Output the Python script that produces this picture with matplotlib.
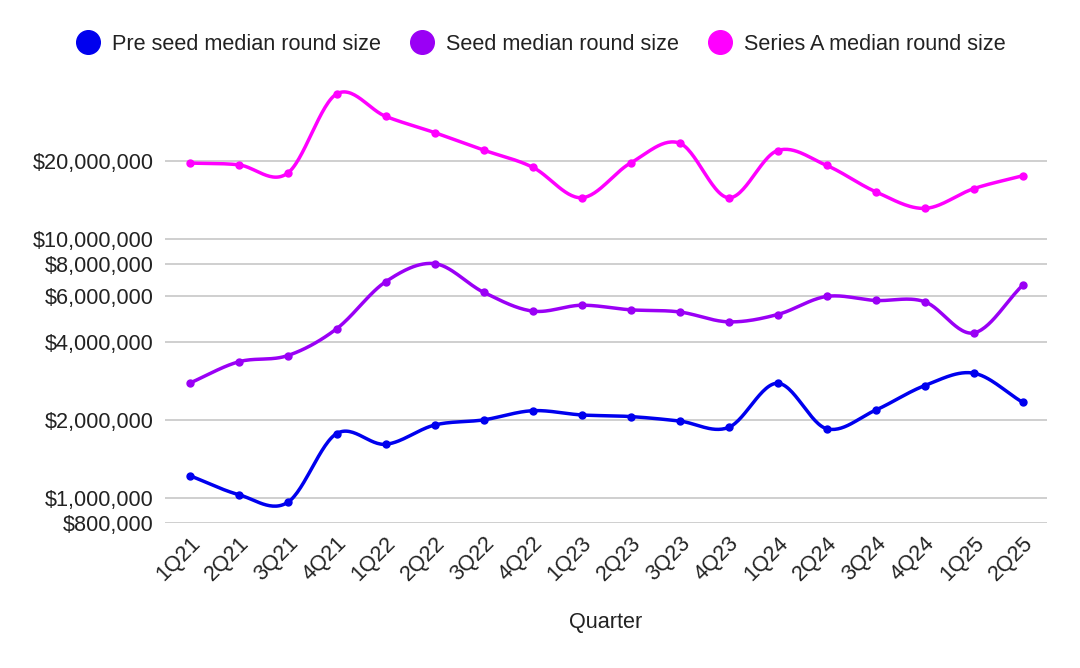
import numpy as np
import matplotlib
matplotlib.use("Agg")
import matplotlib.pyplot as plt
from matplotlib.ticker import FixedLocator, FuncFormatter, NullLocator

quarters = ["1Q21", "2Q21", "3Q21", "4Q21", "1Q22", "2Q22", "3Q22", "4Q22", "1Q23",
            "2Q23", "3Q23", "4Q23", "1Q24", "2Q24", "3Q24", "4Q24", "1Q25", "2Q25"]
pre_seed = [1.22e6, 1.03e6, 0.96e6, 1.77e6, 1.61e6, 1.91e6, 2.00e6, 2.17e6, 2.09e6,
            2.06e6, 1.98e6, 1.87e6, 2.77e6, 1.85e6, 2.18e6, 2.71e6, 3.03e6, 2.34e6]
seed = [2.77e6, 3.35e6, 3.54e6, 4.49e6, 6.82e6, 8.02e6, 6.22e6, 5.26e6, 5.54e6,
        5.32e6, 5.22e6, 4.78e6, 5.10e6, 5.99e6, 5.78e6, 5.72e6, 4.33e6, 6.61e6]
series_a = [19.6e6, 19.3e6, 17.9e6, 36.2e6, 29.7e6, 25.7e6, 22.0e6, 18.9e6, 14.4e6,
            19.6e6, 23.4e6, 14.4e6, 21.9e6, 19.2e6, 15.2e6, 13.1e6, 15.6e6, 17.5e6]
names = ["Pre seed median round size", "Seed median round size", "Series A median round size"]
colors = ["#0000ee", "#9a00f5", "#ff00ff"]
yticks = [8e5, 1e6, 2e6, 4e6, 6e6, 8e6, 1e7, 2e7]

plt.rcParams['font.family'] = ['Liberation Sans', 'DejaVu Sans']

def smooth(xs, ys, n=30):
    # Catmull-Rom spline through points in (x, log y) space
    x = np.asarray(xs, float)
    y = np.log(np.asarray(ys, float))
    px = np.concatenate([[2 * x[0] - x[1]], x, [2 * x[-1] - x[-2]]])
    py = np.concatenate([[2 * y[0] - y[1]], y, [2 * y[-1] - y[-2]]])
    outx, outy = [], []
    t = np.linspace(0, 1, n, endpoint=False)
    for i in range(1, len(px) - 2):
        p0, p1, p2, p3 = py[i - 1], py[i], py[i + 1], py[i + 2]
        q0, q1, q2, q3 = px[i - 1], px[i], px[i + 1], px[i + 2]
        f = lambda a0, a1, a2, a3: 0.5 * ((2 * a1) + (-a0 + a2) * t +
                                          (2 * a0 - 5 * a1 + 4 * a2 - a3) * t ** 2 +
                                          (-a0 + 3 * a1 - 3 * a2 + a3) * t ** 3)
        outx.append(f(q0, q1, q2, q3))
        outy.append(f(p0, p1, p2, p3))
    outx.append([x[-1]])
    outy.append([y[-1]])
    return np.concatenate(outx), np.exp(np.concatenate(outy))

fig = plt.figure(figsize=(10.8, 6.68), dpi=100)
ax = fig.add_axes([165 / 1080, 1 - 523 / 668, (1047 - 165) / 1080, (523 - 80) / 668])

xs = np.arange(len(quarters))
handles = []
for vals, name, c in zip([pre_seed, seed, series_a], names, colors):
    sx, sy = smooth(xs, vals)
    ax.plot(sx, sy, color=c, lw=2.5, solid_capstyle='round', zorder=3)
    ax.plot(xs, vals, 'o', color=c, ms=5, zorder=4)
    h, = ax.plot([], [], 'o', color=c, ms=17, label=name)
    handles.append(h)

ax.set_yscale('log')
ax.set_ylim(8e5, 8e5 * 2 ** ((523 - 80) / 78))
ax.set_xlim(-0.5, len(quarters) - 0.5)
ax.yaxis.set_major_locator(FixedLocator(yticks))
ax.yaxis.set_minor_locator(NullLocator())
ax.yaxis.set_major_formatter(FuncFormatter(lambda v, p: "${:,.0f}".format(v)))
ax.set_xticks(xs)
ax.set_xticklabels(quarters, rotation=45, ha='right', va='top', rotation_mode='anchor')
ax.grid(axis='y', color='#cccccc', lw=1.3)
ax.set_axisbelow(True)
for s in ax.spines.values():
    s.set_visible(False)
ax.tick_params(axis='both', length=0, labelsize=15.6, colors='#222222')
ax.tick_params(axis='y', pad=8)
ax.tick_params(axis='x', pad=7)
ax.set_xlabel("Quarter", fontsize=15.6, color='#222222', labelpad=19)

fig.legend(handles=handles, loc='center', bbox_to_anchor=(0.5, 1 - 44 / 668), ncol=3,
           frameon=False, fontsize=15.6, handletextpad=0.5, columnspacing=1.3,
           handlelength=1.2, labelcolor='#222222')

fig.savefig("out.png", dpi=100, facecolor='white')
